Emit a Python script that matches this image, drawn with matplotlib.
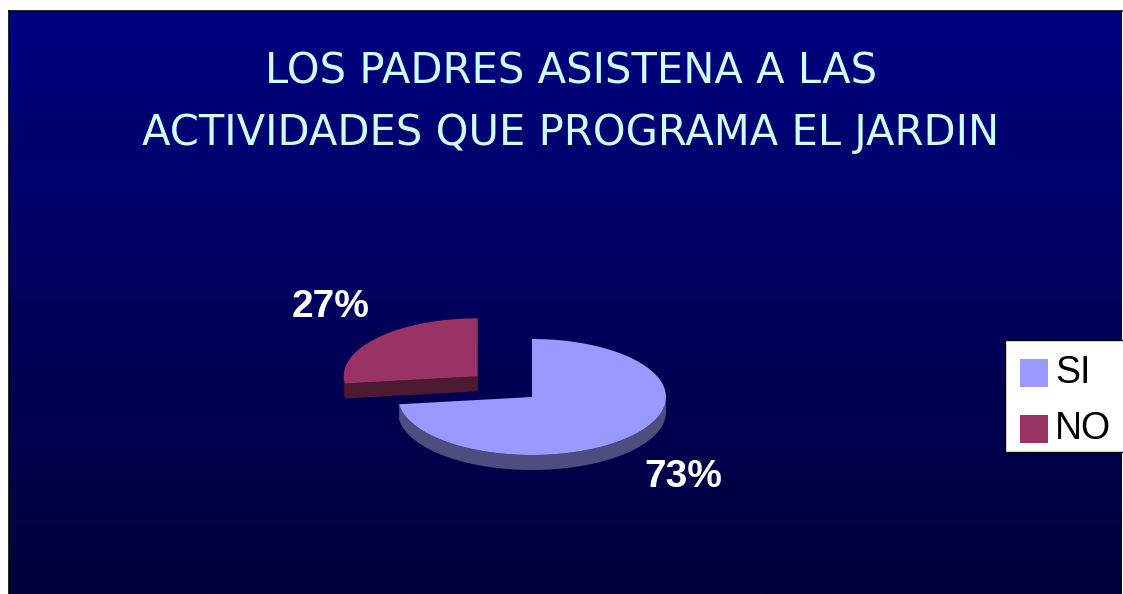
import numpy as np
import matplotlib
matplotlib.use("Agg")
import matplotlib.pyplot as plt
from matplotlib.patches import Polygon, Rectangle

# ---- data ----
categories = ["SI", "NO"]
values = [73, 27]
labels = ["73%", "27%"]
colors_top = ["#9999FF", "#993366"]
colors_side = ["#4D4D80", "#4C1A33"]
title_lines = ["LOS PADRES ASISTENA A LAS", "ACTIVIDADES QUE PROGRAMA EL JARDIN"]

W, H = 1123, 594
fig = plt.figure(figsize=(W / 100, H / 100), dpi=100)
fig.patch.set_facecolor("white")
ax = fig.add_axes([0, 0, 1, 1])
ax.set_xlim(0, W)
ax.set_ylim(H, 0)
ax.axis("off")

# background gradient panel
x0, x1, y0, y1 = 9, 1122, 11, 594
grad = np.linspace(0, 1, 256)[:, None]
top = np.array([0, 0, 128]) / 255
bot = np.array([0, 0, 58]) / 255
img = top[None, None, :] * (1 - grad[..., None]) + bot[None, None, :] * grad[..., None]
img = np.repeat(img, 2, axis=1)
ax.imshow(img, extent=[x0, x1, y1, y0], aspect="auto", zorder=0, interpolation="bilinear")
ax.plot([x0, x1], [y0, y0], color="black", lw=1.2, zorder=1)
ax.plot([x0, x0], [y0, y1], color="black", lw=1.2, zorder=1)

# title
for i, line in enumerate(title_lines):
    ax.text(571, 72 + i * 61, line, ha="center", va="center", color="#CCFFFF",
            fontsize=30, family="DejaVu Sans", zorder=5)

# ---- 3D pie ----
cx, cy = 532, 397
rx, ry = 134, 58
depth = 15
explode = [0.0, 0.54]
start = 90.0  # degrees, clockwise

fracs = np.array(values, dtype=float) / sum(values)
angles = []
a = start
for f in fracs:
    angles.append((a - 360 * f, a))  # math angles, slice covers [lo, hi]
    a -= 360 * f


def pt(ox, oy, th, dz=0):
    t = np.radians(th)
    return ox + rx * np.cos(t), oy - ry * np.sin(t) + dz


label_pos = [(683, 477), (331, 307)]

for i, (lo, hi) in enumerate(angles):
    mid = np.radians((lo + hi) / 2)
    ox = cx + explode[i] * rx * np.cos(mid)
    oy = cy - explode[i] * ry * np.sin(mid)
    ths = np.linspace(lo, hi, 300)
    # radial cut faces facing the viewer
    for edge, nrm in ((lo, lo - 90), (hi, hi + 90)):
        if np.sin(np.radians(nrm)) < -0.01:
            p1 = (ox, oy)
            p2 = pt(ox, oy, edge)
            face = [p1, p2, (p2[0], p2[1] + depth), (p1[0], p1[1] + depth)]
            ax.add_patch(Polygon(face, closed=True, facecolor=colors_side[i],
                                 edgecolor="none", zorder=2))
    # visible outer wall: front half of the ellipse
    s = np.sin(np.radians(ths))
    vis = ths[s <= 0.0]
    if len(vis) > 1:
        topp = [pt(ox, oy, t) for t in vis]
        botp = [pt(ox, oy, t, depth) for t in vis[::-1]]
        ax.add_patch(Polygon(topp + botp, closed=True, facecolor=colors_side[i],
                             edgecolor="none", zorder=2))
    # top face
    poly = [(ox, oy)] + [pt(ox, oy, t) for t in ths]
    ax.add_patch(Polygon(poly, closed=True, facecolor=colors_top[i],
                         edgecolor="none", zorder=3))
    ax.text(label_pos[i][0], label_pos[i][1], labels[i], ha="center", va="center",
            color="white", fontsize=28, fontweight="bold",
            family="Liberation Sans", zorder=5)

# legend
ax.add_patch(Rectangle((1005, 340), 130, 112, facecolor="white", edgecolor="black",
                       lw=1.0, zorder=6, clip_on=False))
for i, cat in enumerate(categories):
    yy = 373 + i * 56
    ax.add_patch(Rectangle((1020, yy - 14), 28, 28, facecolor=colors_top[i],
                           edgecolor="none", zorder=7))
    ax.text(1055, yy, cat, ha="left", va="center", color="black", fontsize=27,
            family="Liberation Sans", zorder=7)

fig.savefig("out.png", dpi=100)
